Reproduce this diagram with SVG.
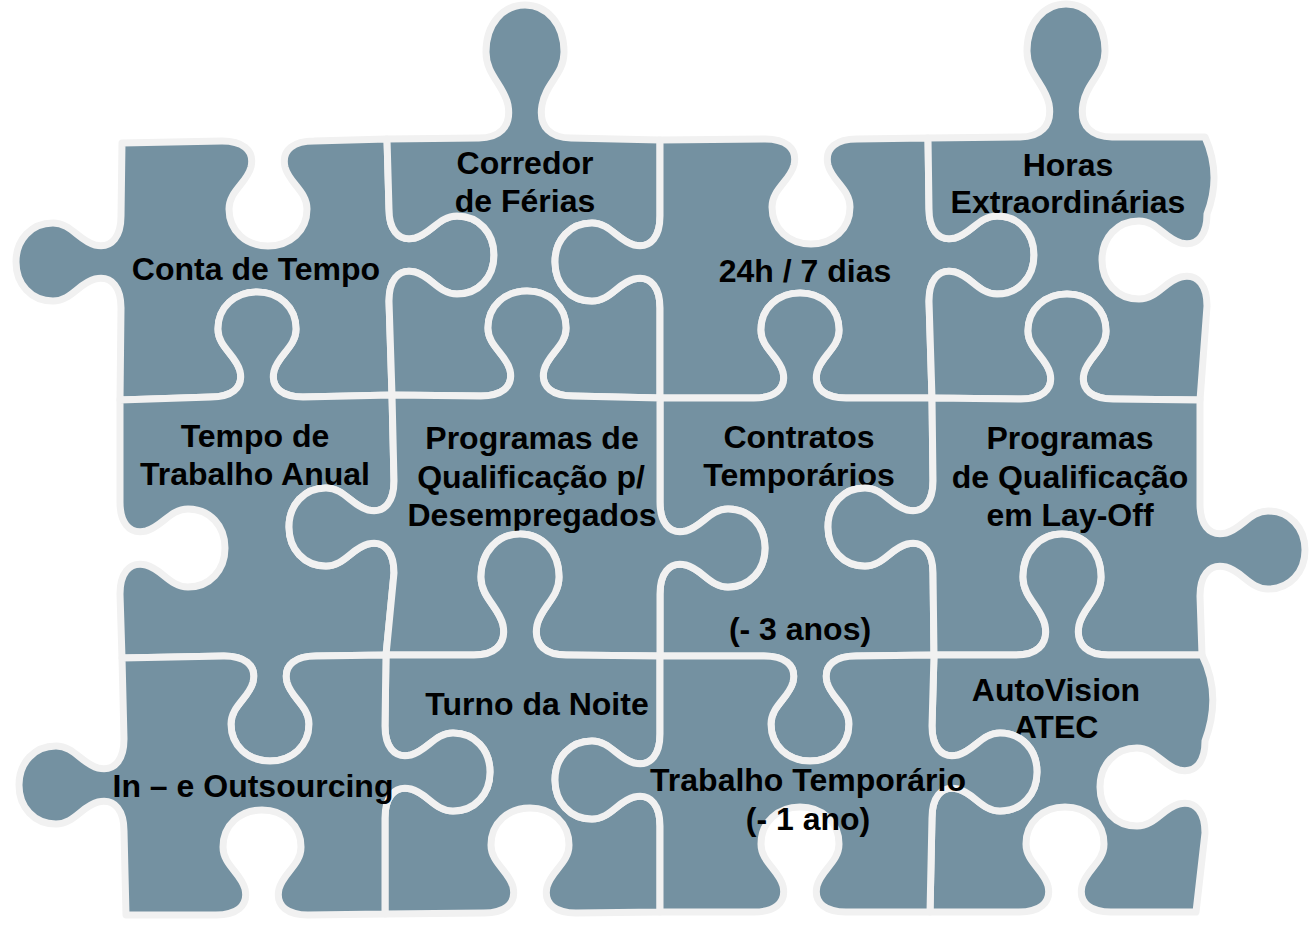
<svg xmlns="http://www.w3.org/2000/svg" width="1316" height="926" viewBox="0 0 1316 926">
<style>
.piece{fill:#7491a1;stroke:#f1f1f1;stroke-width:7;stroke-linejoin:round}
.lbl{font-family:"Liberation Sans",Arial,sans-serif;font-weight:bold;font-size:32px;fill:#000;text-anchor:middle}
</style>
<rect width="1316" height="926" fill="#ffffff"/>
<g id="conta-de-tempo">
<path class="piece" d="M122,143 L222,141 c 19,0 33,8 29,26 c -4,16 -22,24 -22,42 c 0,22 17,37 39,37 c 22,0 39,-15 39,-37 c 0,-18 -18,-26 -22,-42 c -4,-18 10,-26 29,-26 L387,139 L389,209 c 0,19 8,33 26,29 c 16,-4 24,-22 42,-22 c 22,0 37,17 37,39 c 0,22 -15,39 -37,39 c -18,0 -26,-18 -42,-22 c -18,-4 -26,10 -26,29 L392,395 L303,397 c -19,0 -33,-8 -29,-26 c 4,-16 22,-24 22,-42 c 0,-22 -17,-37 -39,-37 c -22,0 -39,15 -39,37 c 0,18 18,26 22,42 c 4,18 -10,26 -29,26 L120,400 L121,308 c 0,-19 -8,-33 -26,-29 c -16,4 -24,22 -42,22 c -22,0 -37,-17 -37,-39 c 0,-22 15,-39 37,-39 c 18,0 26,18 42,22 c 18,4 26,-10 26,-29 Z"/>
<text class="lbl" x="256" y="280">Conta de Tempo</text>
</g>
<g id="corredor-de-ferias">
<path class="piece" d="M387,139 L479,138 c 19,0 33,-10 29,-33 c -4,-20 -22,-30 -22,-53 c 0,-28 17,-47 39,-47 c 22,0 39,19 39,47 c 0,23 -18,30 -22,53 c -4,23 10,33 29,33 L660,140 L660,216 c 0,19 -8,33 -26,29 c -16,-4 -24,-22 -42,-22 c -22,0 -37,17 -37,39 c 0,22 15,39 37,39 c 18,0 26,-18 42,-22 c 18,-4 26,10 26,29 L660,398 L573,396 c -19,0 -33,-8 -29,-26 c 4,-16 22,-24 22,-42 c 0,-22 -17,-37 -39,-37 c -22,0 -39,15 -39,37 c 0,18 18,26 22,42 c 4,18 -10,26 -29,26 L392,395 L389,301 c 0,-19 8,-33 26,-29 c 16,4 24,22 42,22 c 22,0 37,-17 37,-39 c 0,-22 -15,-39 -37,-39 c -18,0 -26,18 -42,22 c -18,4 -26,-10 -26,-29 Z"/>
<text class="lbl" x="525" y="174">Corredor</text>
<text class="lbl" x="525" y="212">de Férias</text>
</g>
<g id="h24-7-dias">
<path class="piece" d="M660,140 L765,139 c 19,0 33,8 29,26 c -4,16 -22,24 -22,42 c 0,22 17,37 39,37 c 22,0 39,-15 39,-37 c 0,-18 -18,-26 -22,-42 c -4,-18 10,-26 29,-26 L928,138 L929,209 c 0,19 8,33 26,29 c 16,-4 24,-22 42,-22 c 22,0 37,17 37,39 c 0,22 -15,39 -37,39 c -18,0 -26,-18 -42,-22 c -18,-4 -26,10 -26,29 L932,398 L846,398 c -19,0 -33,-8 -29,-26 c 4,-16 22,-24 22,-42 c 0,-22 -17,-37 -39,-37 c -22,0 -39,15 -39,37 c 0,18 18,26 22,42 c 4,18 -10,26 -29,26 L660,398 L660,308 c 0,-19 -8,-33 -26,-29 c -16,4 -24,22 -42,22 c -22,0 -37,-17 -37,-39 c 0,-22 15,-39 37,-39 c 18,0 26,18 42,22 c 18,4 26,-10 26,-29 Z"/>
<text class="lbl" x="805" y="282">24h / 7 dias</text>
</g>
<g id="horas-extraordinarias">
<path class="piece" d="M928,138 L1020,137 c 19,0 33,-10 29,-33 c -4,-20 -22,-30 -22,-53 c 0,-28 17,-47 39,-47 c 22,0 39,19 39,47 c 0,23 -18,30 -22,53 c -4,23 10,33 29,33 L1205,137 Q1222,175 1207,214 c 0,19 -8,33 -26,29 c -16,-4 -24,-22 -42,-22 c -22,0 -37,17 -37,39 c 0,22 15,39 37,39 c 18,0 26,-18 42,-22 c 18,-4 26,10 26,29 L1200,400 L1113,399 c -19,0 -33,-8 -29,-26 c 4,-16 22,-24 22,-42 c 0,-22 -17,-37 -39,-37 c -22,0 -39,15 -39,37 c 0,18 18,26 22,42 c 4,18 -10,26 -29,26 L932,398 L929,301 c 0,-19 8,-33 26,-29 c 16,4 24,22 42,22 c 22,0 37,-17 37,-39 c 0,-22 -15,-39 -37,-39 c -18,0 -26,18 -42,22 c -18,4 -26,-10 -26,-29 Z"/>
<text class="lbl" x="1068" y="176">Horas</text>
<text class="lbl" x="1068" y="213">Extraordinárias</text>
</g>
<g id="tempo-de-trabalho-anual">
<path class="piece" d="M120,400 L211,397 c 19,0 33,-8 29,-26 c -4,-16 -22,-24 -22,-42 c 0,-22 17,-37 39,-37 c 22,0 39,15 39,37 c 0,18 -18,26 -22,42 c -4,18 10,26 29,26 L392,395 L394,481 c 0,19 -8,33 -26,29 c -16,-4 -24,-22 -42,-22 c -22,0 -37,17 -37,39 c 0,22 15,39 37,39 c 18,0 26,-18 42,-22 c 18,-4 26,10 26,29 L386,655 L316,656 c -19,0 -33,8 -29,26 c 4,16 22,24 22,42 c 0,22 -17,37 -39,37 c -22,0 -39,-15 -39,-37 c 0,-18 18,-26 22,-42 c 4,-18 -10,-26 -29,-26 L122,658 L120,594 c 0,-19 8,-33 26,-29 c 16,4 24,22 42,22 c 22,0 37,-17 37,-39 c 0,-22 -15,-39 -37,-39 c -18,0 -26,18 -42,22 c -18,4 -26,-10 -26,-29 Z"/>
<text class="lbl" x="255" y="447">Tempo de</text>
<text class="lbl" x="255" y="485">Trabalho Anual</text>
</g>
<g id="contratos-temporarios">
<path class="piece" d="M660,398 L754,398 c 19,0 33,-8 29,-26 c -4,-16 -22,-24 -22,-42 c 0,-22 17,-37 39,-37 c 22,0 39,15 39,37 c 0,18 -18,26 -22,42 c -4,18 10,26 29,26 L932,398 L933,481 c 0,19 -8,33 -26,29 c -16,-4 -24,-22 -42,-22 c -22,0 -37,17 -37,39 c 0,22 15,39 37,39 c 18,0 26,-18 42,-22 c 18,-4 26,10 26,29 L934,655 L856,656 c -19,0 -33,8 -29,26 c 4,16 22,24 22,42 c 0,22 -17,37 -39,37 c -22,0 -39,-15 -39,-37 c 0,-18 18,-26 22,-42 c 4,-18 -10,-26 -29,-26 L660,656 L660,594 c 0,-19 8,-33 26,-29 c 16,4 24,22 42,22 c 22,0 37,-17 37,-39 c 0,-22 -15,-39 -37,-39 c -18,0 -26,18 -42,22 c -18,4 -26,-10 -26,-29 Z"/>
<text class="lbl" x="799" y="448">Contratos</text>
<text class="lbl" x="799" y="486">Temporários</text>
<text class="lbl" x="800" y="640">(- 3 anos)</text>
</g>
<g id="programas-qualificacao-desempregados">
<path class="piece" d="M392,395 L481,396 c 19,0 33,-8 29,-26 c -4,-16 -22,-24 -22,-42 c 0,-22 17,-37 39,-37 c 22,0 39,15 39,37 c 0,18 -18,26 -22,42 c -4,18 10,26 29,26 L660,398 L660,502 c 0,19 8,33 26,29 c 16,-4 24,-22 42,-22 c 22,0 37,17 37,39 c 0,22 -15,39 -37,39 c -18,0 -26,-18 -42,-22 c -18,-4 -26,10 -26,29 L660,656 L566,655 c -19,0 -33,-9 -29,-30 c 4,-18 22,-28 22,-48 c 0,-25 -17,-43 -39,-43 c -22,0 -39,17 -39,43 c 0,21 18,30 22,48 c 4,21 -10,30 -29,30 L386,655 L394,573 c 0,-19 -8,-33 -26,-29 c -16,4 -24,22 -42,22 c -22,0 -37,-17 -37,-39 c 0,-22 15,-39 37,-39 c 18,0 26,18 42,22 c 18,4 26,-10 26,-29 Z"/>
<text class="lbl" x="532" y="449">Programas de</text>
<text class="lbl" x="531" y="488">Qualificação p/</text>
<text class="lbl" x="532" y="526">Desempregados</text>
</g>
<g id="programas-qualificacao-layoff">
<path class="piece" d="M932,398 L1021,399 c 19,0 33,-8 29,-26 c -4,-16 -22,-24 -22,-42 c 0,-22 17,-37 39,-37 c 22,0 39,15 39,37 c 0,18 -18,26 -22,42 c -4,18 10,26 29,26 L1200,400 L1200,504 c 0,19 8,33 26,29 c 16,-4 24,-22 42,-22 c 22,0 37,17 37,39 c 0,22 -15,39 -37,39 c -18,0 -26,-18 -42,-22 c -18,-4 -26,10 -26,29 L1202,655 L1108,655 c -19,0 -33,-9 -29,-30 c 4,-18 22,-28 22,-48 c 0,-25 -17,-43 -39,-43 c -22,0 -39,17 -39,43 c 0,21 18,30 22,48 c 4,21 -10,30 -29,30 L934,655 L933,573 c 0,-19 -8,-33 -26,-29 c -16,4 -24,22 -42,22 c -22,0 -37,-17 -37,-39 c 0,-22 15,-39 37,-39 c 18,0 26,18 42,22 c 18,4 26,-10 26,-29 Z"/>
<text class="lbl" x="1070" y="449">Programas</text>
<text class="lbl" x="1070" y="488">de Qualificação</text>
<text class="lbl" x="1070" y="526">em Lay-Off</text>
</g>
<g id="turno-da-noite">
<path class="piece" d="M386,655 L474,655 c 19,0 33,-9 29,-30 c -4,-18 -22,-28 -22,-48 c 0,-25 17,-43 39,-43 c 22,0 39,17 39,43 c 0,21 -18,30 -22,48 c -4,21 10,30 29,30 L660,656 L660,734 c 0,19 -8,33 -26,29 c -16,-4 -24,-22 -42,-22 c -22,0 -37,17 -37,39 c 0,22 15,39 37,39 c 18,0 26,-18 42,-22 c 18,-4 26,10 26,29 L660,912 L576,913 c -19,0 -33,-8 -29,-26 c 4,-16 22,-24 22,-42 c 0,-22 -17,-37 -39,-37 c -22,0 -39,15 -39,37 c 0,18 18,26 22,42 c 4,18 -10,26 -29,26 L385,914 L385,818 c 0,-19 8,-33 26,-29 c 16,4 24,22 42,22 c 22,0 37,-17 37,-39 c 0,-22 -15,-39 -37,-39 c -18,0 -26,18 -42,22 c -18,4 -26,-10 -26,-29 Z"/>
<text class="lbl" x="537" y="715">Turno da Noite</text>
</g>
<g id="autovision-atec">
<path class="piece" d="M934,655 L1016,655 c 19,0 33,-9 29,-30 c -4,-18 -22,-28 -22,-48 c 0,-25 17,-43 39,-43 c 22,0 39,17 39,43 c 0,21 -18,30 -22,48 c -4,21 10,30 29,30 L1202,655 Q1222,695 1205,741 c 0,19 -8,33 -26,29 c -16,-4 -24,-22 -42,-22 c -22,0 -37,17 -37,39 c 0,22 15,39 37,39 c 18,0 26,-18 42,-22 c 18,-4 26,10 26,29 L1196,912 L1111,912 c -19,0 -33,-8 -29,-26 c 4,-16 22,-24 22,-42 c 0,-22 -17,-37 -39,-37 c -22,0 -39,15 -39,37 c 0,18 18,26 22,42 c 4,18 -10,26 -29,26 L930,912 L932,818 c 0,-19 8,-33 26,-29 c 16,4 24,22 42,22 c 22,0 37,-17 37,-39 c 0,-22 -15,-39 -37,-39 c -18,0 -26,18 -42,22 c -18,4 -26,-10 -26,-29 Z"/>
<text class="lbl" x="1056" y="701">AutoVision</text>
<text class="lbl" x="1056" y="738">ATEC</text>
</g>
<g id="in-e-outsourcing">
<path class="piece" d="M122,658 L224,656 c 19,0 33,8 29,26 c -4,16 -22,24 -22,42 c 0,22 17,37 39,37 c 22,0 39,-15 39,-37 c 0,-18 -18,-26 -22,-42 c -4,-18 10,-26 29,-26 L386,655 L385,726 c 0,19 8,33 26,29 c 16,-4 24,-22 42,-22 c 22,0 37,17 37,39 c 0,22 -15,39 -37,39 c -18,0 -26,-18 -42,-22 c -18,-4 -26,10 -26,29 L385,914 L308,915 c -19,0 -33,-8 -29,-26 c 4,-16 22,-24 22,-42 c 0,-22 -17,-37 -39,-37 c -22,0 -39,15 -39,37 c 0,18 18,26 22,42 c 4,18 -10,26 -29,26 L126,915 L124,831 c 0,-19 -8,-33 -26,-29 c -16,4 -24,22 -42,22 c -22,0 -37,-17 -37,-39 c 0,-22 15,-39 37,-39 c 18,0 26,18 42,22 c 18,4 26,-10 26,-29 Z"/>
<text class="lbl" x="253" y="797">In – e Outsourcing</text>
</g>
<g id="trabalho-temporario">
<path class="piece" d="M660,656 L764,656 c 19,0 33,8 29,26 c -4,16 -22,24 -22,42 c 0,22 17,37 39,37 c 22,0 39,-15 39,-37 c 0,-18 -18,-26 -22,-42 c -4,-18 10,-26 29,-26 L934,655 L932,726 c 0,19 8,33 26,29 c 16,-4 24,-22 42,-22 c 22,0 37,17 37,39 c 0,22 -15,39 -37,39 c -18,0 -26,-18 -42,-22 c -18,-4 -26,10 -26,29 L930,912 L846,912 c -19,0 -33,-8 -29,-26 c 4,-16 22,-24 22,-42 c 0,-22 -17,-37 -39,-37 c -22,0 -39,15 -39,37 c 0,18 18,26 22,42 c 4,18 -10,26 -29,26 L660,912 L660,826 c 0,-19 -8,-33 -26,-29 c -16,4 -24,22 -42,22 c -22,0 -37,-17 -37,-39 c 0,-22 15,-39 37,-39 c 18,0 26,18 42,22 c 18,4 26,-10 26,-29 Z"/>
<text class="lbl" x="808" y="791">Trabalho Temporário</text>
<text class="lbl" x="808" y="830">(- 1 ano)</text>
</g>
</svg>
